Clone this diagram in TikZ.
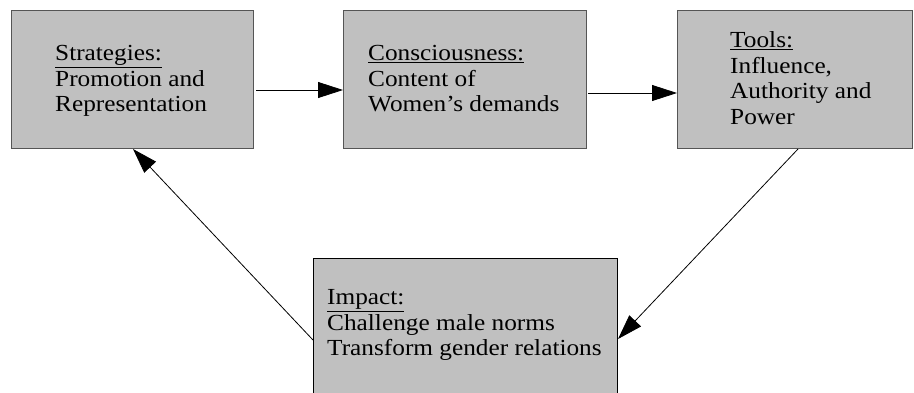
\documentclass[tikz,border=0pt]{standalone}
\usepackage{fontspec}
\setmainfont[FakeStretch=1.1]{Liberation Serif}
\usetikzlibrary{calc}
\usetikzlibrary{arrows.meta}
\tikzset{
  box/.style = {rectangle, draw=#1, line width=1pt, fill=boxgray, inner sep=0pt, anchor=north west},
  txt/.style = {anchor=north west, inner sep=0pt, align=left, font=\fontsize{23}{25.5}\selectfont},
  link/.style = {color=black, line width=0.8pt, -{Triangle[length=25pt, width=16pt]}}
}
\definecolor{boxgray}{HTML}{C0C0C0}
\definecolor{edgegray}{HTML}{555555}

\begin{document}
\begin{tikzpicture}[x=1pt, y=-1pt]
    \useasboundingbox (0,0) rectangle (914,392);

    %==== Boxes ====
    \node[box={edgegray}, minimum width=242pt, minimum height=138pt] (strat) at (11,10) {};
    \node[box={edgegray}, minimum width=243pt, minimum height=138pt] (consc) at (343,10) {};
    \node[box={edgegray}, minimum width=235pt, minimum height=138pt] (tools) at (677,10) {};
    \node[box={black}, minimum width=304pt, minimum height=150pt] (impact) at (313,258) {};

    %==== Texts ====
    \node[txt] (strattxt) at (55,45.5) {\underline{Strategies:}\\Promotion and\\Representation};
    \node[txt] (consctxt) at (368,45.5) {\underline{Consciousness:}\\Content of\\Women’s demands};
    \node[txt] (toolstxt) at (730,31.5) {\underline{Tools:}\\Influence,\\Authority and\\Power};
    \node[txt] (impacttxt) at (327,289.5) {\underline{Impact:}\\Challenge male norms\\Transform gender relations};

    %==== Connectors ====
    \draw[link] ($(strat.north east)+(2,80)$) -- ($(consc.north west)+(0,80)$);
    \draw[link] ($(consc.north east)+(1,83)$) -- ($(tools.north west)+(0,83)$);
    \draw[link] ($(tools.south west)+(121,0)$) -- ($(impact.north east)+(0,81)$);
    \draw[link] ($(impact.north west)+(0,82)$) -- ($(strat.south west)+(122,0)$);
\end{tikzpicture}
\end{document}
